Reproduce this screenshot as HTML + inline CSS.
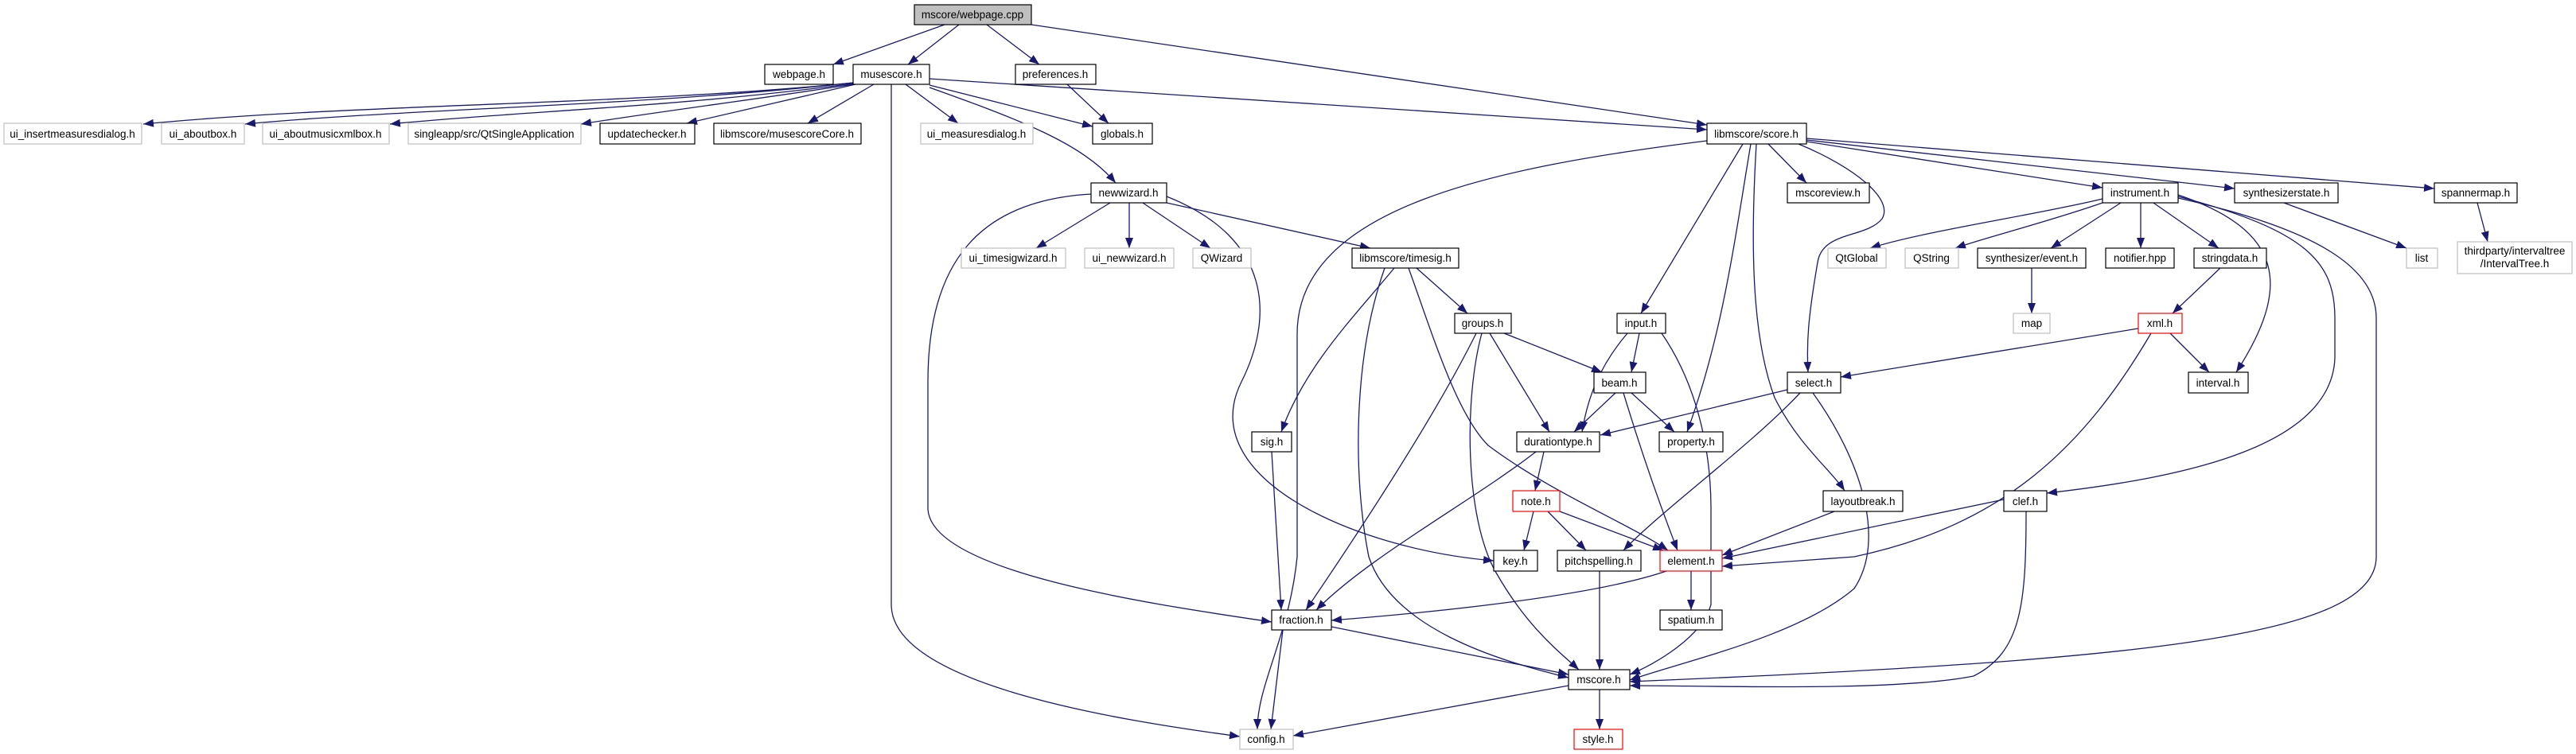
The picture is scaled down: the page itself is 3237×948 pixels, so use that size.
<!DOCTYPE html>
<html><head><meta charset="utf-8"><style>
html,body{margin:0;padding:0;background:#fff}
svg{display:block}
text{font-family:"Liberation Sans",sans-serif;font-size:13.5px;fill:#000}
.e{fill:none;stroke:#191970;stroke-width:1.3}
</style></head><body>
<svg width="3237" height="948" viewBox="0 0 3237 948" xmlns="http://www.w3.org/2000/svg">
<defs>
<marker id="a" markerUnits="userSpaceOnUse" markerWidth="14" markerHeight="10" refX="13" refY="5" orient="auto">
<path d="M0,0 L13,5 L0,10 Z" fill="#191970"/>
</marker>
</defs>
<g marker-end="url(#a)" class="e">
<path class="e" d="M1187,31 L1047,81"/>
<path class="e" d="M1205,31 L1141,81"/>
<path class="e" d="M1240,31 L1306,81"/>
<path class="e" d="M1296,31 L2145,157"/>
<path class="e" d="M1072,104 C800,132 450,130 180,156"/>
<path class="e" d="M1072,104 C800,134 520,136 308,156"/>
<path class="e" d="M1072,105 C850,135 650,140 490,156"/>
<path class="e" d="M1072,106 C950,125 830,140 730,156"/>
<path class="e" d="M1075,106 L863,155"/>
<path class="e" d="M1098,106 L1015,155"/>
<path class="e" d="M1138,106 L1204,155"/>
<path class="e" d="M1168,107 L1373,159"/>
<path class="e" d="M1168,110 C1280,150 1360,180 1402,230"/>
<path class="e" d="M1168,99 L2145,163"/>
<path class="e" d="M1120,106 L1120,760 C1120,860 1400,905 1558,926"/>
<path class="e" d="M1341,106 L1393,155"/>
<path class="e" d="M1395,255 L1302,312"/>
<path class="e" d="M1419,255 L1419,312"/>
<path class="e" d="M1436,255 L1521,312"/>
<path class="e" d="M1466,255 L1722,312"/>
<path class="e" d="M1371,244 C1230,252 1166,330 1166,480 L1166,640 C1170,720 1450,760 1598,782"/>
<path class="e" d="M1466,247 C1600,300 1600,400 1560,480 C1500,600 1700,690 1877,705"/>
<path class="e" d="M1780,337 L1844,394"/>
<path class="e" d="M1752,337 C1700,400 1640,460 1610,543"/>
<path class="e" d="M1740,337 C1700,450 1700,600 1720,700 C1750,790 1880,830 1971,852"/>
<path class="e" d="M1770,337 C1800,420 1830,520 1870,560 C1950,620 2050,660 2096,692"/>
<path class="e" d="M1890,419 L2013,468"/>
<path class="e" d="M1872,419 L1947,543"/>
<path class="e" d="M1855,419 C1800,530 1700,680 1641,767"/>
<path class="e" d="M1862,419 C1840,500 1840,650 1880,720 C1920,790 1960,820 1984,842"/>
<path class="e" d="M2145,177 C1880,210 1630,260 1630,420 L1630,700 C1620,800 1580,860 1580,917"/>
<path class="e" d="M2190,181 L2062,394"/>
<path class="e" d="M2200,181 C2180,300 2165,420 2120,543"/>
<path class="e" d="M2207,181 C2200,300 2200,420 2230,500 C2260,560 2300,590 2318,617"/>
<path class="e" d="M2222,181 L2270,230"/>
<path class="e" d="M2260,181 C2330,210 2380,250 2365,275 C2345,300 2290,290 2284,330 C2272,400 2270,430 2272,468"/>
<path class="e" d="M2270,178 L2642,236"/>
<path class="e" d="M2270,176 L2808,237"/>
<path class="e" d="M2270,174 L3059,237"/>
<path class="e" d="M2060,419 L2050,468"/>
<path class="e" d="M2045,419 C2010,460 1995,500 1988,543"/>
<path class="e" d="M2088,419 C2130,480 2150,560 2150,640 L2150,760 C2140,800 2080,835 2048,848"/>
<path class="e" d="M2030,494 L1978,543"/>
<path class="e" d="M2050,494 L2104,543"/>
<path class="e" d="M2040,494 C2060,560 2080,620 2108,692"/>
<path class="e" d="M2246,490 L2011,547"/>
<path class="e" d="M2262,494 C2200,560 2090,640 2040,692"/>
<path class="e" d="M2278,494 C2340,580 2370,680 2330,740 C2260,800 2120,830 2048,855"/>
<path class="e" d="M1940,568 L1929,617"/>
<path class="e" d="M1930,568 C1850,630 1720,700 1654,767"/>
<path class="e" d="M1927,643 L1915,692"/>
<path class="e" d="M1945,643 L1993,692"/>
<path class="e" d="M1960,643 L2090,692"/>
<path class="e" d="M2305,643 L2164,698"/>
<path class="e" d="M2518,628 L2164,702"/>
<path class="e" d="M2546,643 C2546,760 2540,820 2480,850 C2380,870 2150,862 2048,862"/>
<path class="e" d="M2687,413 L2313,474"/>
<path class="e" d="M2703,419 C2620,560 2520,660 2330,700 L2164,712"/>
<path class="e" d="M2727,419 L2776,468"/>
<path class="e" d="M2642,250 C2560,270 2420,290 2350,312"/>
<path class="e" d="M2642,255 C2570,280 2490,300 2457,312"/>
<path class="e" d="M2665,255 L2577,312"/>
<path class="e" d="M2690,255 L2690,312"/>
<path class="e" d="M2706,255 L2788,312"/>
<path class="e" d="M2737,245 C2870,290 2880,360 2810,468"/>
<path class="e" d="M2737,247 C2900,290 2934,330 2934,400 L2934,450 C2930,560 2750,600 2572,620"/>
<path class="e" d="M2737,249 C2920,290 2986,340 2986,400 L2986,700 C2986,800 2700,830 2048,857"/>
<path class="e" d="M2790,337 L2730,394"/>
<path class="e" d="M2553,337 L2553,394"/>
<path class="e" d="M2870,255 L3024,312"/>
<path class="e" d="M3113,255 L3126,304"/>
<path class="e" d="M2094,718 C2000,750 1800,770 1673,780"/>
<path class="e" d="M2125,718 L2125,767"/>
<path class="e" d="M1598,568 L1610,767"/>
<path class="e" d="M2010,718 L2010,842"/>
<path class="e" d="M1673,788 L1971,848"/>
<path class="e" d="M1612,792 L1597,917"/>
<path class="e" d="M1971,862 L1625,925"/>
<path class="e" d="M2010,867 L2010,917"/>
</g>
<g stroke-width="1.2">
<rect x="1149" y="6" width="147" height="25" fill="#bfbfbf" stroke="#000"/><text x="1222" y="23" text-anchor="middle">mscore/webpage.cpp</text>
<rect x="961" y="81" width="86" height="25" fill="#fff" stroke="#000"/><text x="1004" y="98" text-anchor="middle">webpage.h</text>
<rect x="1072" y="81" width="96" height="25" fill="#fff" stroke="#000"/><text x="1120" y="98" text-anchor="middle">musescore.h</text>
<rect x="1276" y="81" width="101" height="25" fill="#fff" stroke="#000"/><text x="1326" y="98" text-anchor="middle">preferences.h</text>
<rect x="5" y="155" width="173" height="26" fill="#fff" stroke="#bfbfbf"/><text x="91" y="173" text-anchor="middle">ui_insertmeasuresdialog.h</text>
<rect x="203" y="155" width="104" height="26" fill="#fff" stroke="#bfbfbf"/><text x="255" y="173" text-anchor="middle">ui_aboutbox.h</text>
<rect x="330" y="155" width="159" height="26" fill="#fff" stroke="#bfbfbf"/><text x="409" y="173" text-anchor="middle">ui_aboutmusicxmlbox.h</text>
<rect x="513" y="155" width="217" height="26" fill="#fff" stroke="#bfbfbf"/><text x="621" y="173" text-anchor="middle">singleapp/src/QtSingleApplication</text>
<rect x="754" y="155" width="119" height="26" fill="#fff" stroke="#000"/><text x="813" y="173" text-anchor="middle">updatechecker.h</text>
<rect x="897" y="155" width="185" height="26" fill="#fff" stroke="#000"/><text x="989" y="173" text-anchor="middle">libmscore/musescoreCore.h</text>
<rect x="1157" y="155" width="141" height="26" fill="#fff" stroke="#bfbfbf"/><text x="1227" y="173" text-anchor="middle">ui_measuresdialog.h</text>
<rect x="1373" y="155" width="75" height="26" fill="#fff" stroke="#000"/><text x="1410" y="173" text-anchor="middle">globals.h</text>
<rect x="2145" y="155" width="125" height="26" fill="#fff" stroke="#000"/><text x="2207" y="173" text-anchor="middle">libmscore/score.h</text>
<rect x="1371" y="230" width="95" height="25" fill="#fff" stroke="#000"/><text x="1418" y="247" text-anchor="middle">newwizard.h</text>
<rect x="2246" y="230" width="103" height="25" fill="#fff" stroke="#000"/><text x="2297" y="247" text-anchor="middle">mscoreview.h</text>
<rect x="2642" y="230" width="95" height="25" fill="#fff" stroke="#000"/><text x="2689" y="247" text-anchor="middle">instrument.h</text>
<rect x="2808" y="230" width="130" height="25" fill="#fff" stroke="#000"/><text x="2873" y="247" text-anchor="middle">synthesizerstate.h</text>
<rect x="3059" y="230" width="104" height="25" fill="#fff" stroke="#000"/><text x="3111" y="247" text-anchor="middle">spannermap.h</text>
<rect x="1208" y="312" width="131" height="25" fill="#fff" stroke="#bfbfbf"/><text x="1273" y="329" text-anchor="middle">ui_timesigwizard.h</text>
<rect x="1363" y="312" width="112" height="25" fill="#fff" stroke="#bfbfbf"/><text x="1419" y="329" text-anchor="middle">ui_newwizard.h</text>
<rect x="1499" y="312" width="73" height="25" fill="#fff" stroke="#bfbfbf"/><text x="1535" y="329" text-anchor="middle">QWizard</text>
<rect x="1699" y="312" width="134" height="25" fill="#fff" stroke="#000"/><text x="1766" y="329" text-anchor="middle">libmscore/timesig.h</text>
<rect x="2297" y="312" width="73" height="25" fill="#fff" stroke="#bfbfbf"/><text x="2333" y="329" text-anchor="middle">QtGlobal</text>
<rect x="2394" y="312" width="67" height="25" fill="#fff" stroke="#bfbfbf"/><text x="2427" y="329" text-anchor="middle">QString</text>
<rect x="2485" y="312" width="136" height="25" fill="#fff" stroke="#000"/><text x="2553" y="329" text-anchor="middle">synthesizer/event.h</text>
<rect x="2646" y="312" width="86" height="25" fill="#fff" stroke="#000"/><text x="2689" y="329" text-anchor="middle">notifier.hpp</text>
<rect x="2757" y="312" width="91" height="25" fill="#fff" stroke="#000"/><text x="2802" y="329" text-anchor="middle">stringdata.h</text>
<rect x="3024" y="312" width="39" height="25" fill="#fff" stroke="#bfbfbf"/><text x="3043" y="329" text-anchor="middle">list</text>
<rect x="3088" y="304" width="144" height="40" fill="#fff" stroke="#bfbfbf"/><text x="3160" y="320" text-anchor="middle">thirdparty/intervaltree</text><text x="3160" y="336" text-anchor="middle">/IntervalTree.h</text>
<rect x="1828" y="394" width="71" height="25" fill="#fff" stroke="#000"/><text x="1863" y="411" text-anchor="middle">groups.h</text>
<rect x="2032" y="394" width="61" height="25" fill="#fff" stroke="#000"/><text x="2062" y="411" text-anchor="middle">input.h</text>
<rect x="2530" y="394" width="46" height="25" fill="#fff" stroke="#bfbfbf"/><text x="2553" y="411" text-anchor="middle">map</text>
<rect x="2687" y="394" width="55" height="25" fill="#fff" stroke="#ff0000"/><text x="2714" y="411" text-anchor="middle">xml.h</text>
<rect x="2003" y="468" width="65" height="26" fill="#fff" stroke="#000"/><text x="2035" y="486" text-anchor="middle">beam.h</text>
<rect x="2246" y="468" width="67" height="26" fill="#fff" stroke="#000"/><text x="2279" y="486" text-anchor="middle">select.h</text>
<rect x="2750" y="468" width="75" height="26" fill="#fff" stroke="#000"/><text x="2787" y="486" text-anchor="middle">interval.h</text>
<rect x="1573" y="543" width="50" height="25" fill="#fff" stroke="#000"/><text x="1598" y="560" text-anchor="middle">sig.h</text>
<rect x="1906" y="543" width="104" height="25" fill="#fff" stroke="#000"/><text x="1958" y="560" text-anchor="middle">durationtype.h</text>
<rect x="2085" y="543" width="80" height="25" fill="#fff" stroke="#000"/><text x="2125" y="560" text-anchor="middle">property.h</text>
<rect x="1901" y="617" width="59" height="26" fill="#fff" stroke="#ff0000"/><text x="1930" y="635" text-anchor="middle">note.h</text>
<rect x="2291" y="617" width="100" height="26" fill="#fff" stroke="#000"/><text x="2341" y="635" text-anchor="middle">layoutbreak.h</text>
<rect x="2518" y="617" width="54" height="26" fill="#fff" stroke="#000"/><text x="2545" y="635" text-anchor="middle">clef.h</text>
<rect x="1877" y="692" width="55" height="26" fill="#fff" stroke="#000"/><text x="1904" y="710" text-anchor="middle">key.h</text>
<rect x="1957" y="692" width="105" height="26" fill="#fff" stroke="#000"/><text x="2009" y="710" text-anchor="middle">pitchspelling.h</text>
<rect x="2086" y="692" width="78" height="26" fill="#fff" stroke="#ff0000"/><text x="2125" y="710" text-anchor="middle">element.h</text>
<rect x="1598" y="767" width="75" height="25" fill="#fff" stroke="#000"/><text x="1635" y="784" text-anchor="middle">fraction.h</text>
<rect x="2086" y="767" width="78" height="25" fill="#fff" stroke="#000"/><text x="2125" y="784" text-anchor="middle">spatium.h</text>
<rect x="1971" y="842" width="77" height="25" fill="#fff" stroke="#000"/><text x="2009" y="859" text-anchor="middle">mscore.h</text>
<rect x="1558" y="917" width="67" height="25" fill="#fff" stroke="#bfbfbf"/><text x="1591" y="934" text-anchor="middle">config.h</text>
<rect x="1978" y="917" width="61" height="25" fill="#fff" stroke="#ff0000"/><text x="2008" y="934" text-anchor="middle">style.h</text>
</g>
</svg>
</body></html>
